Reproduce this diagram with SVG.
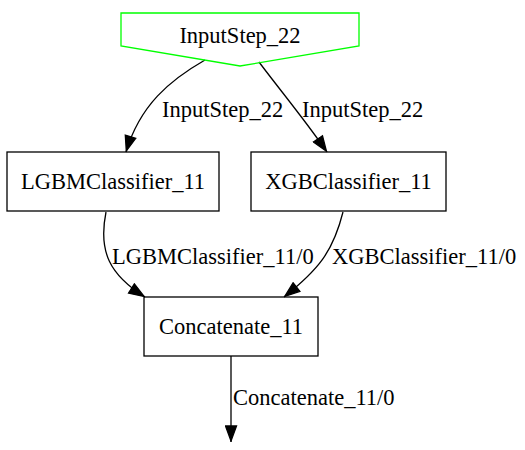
<svg xmlns="http://www.w3.org/2000/svg" width="525" height="450" viewBox="0 0 525 450" font-family="'Liberation Serif', 'Times New Roman', Times, 'DejaVu Serif', serif" font-size="22">
<style>
text{font-family:'Liberation Serif','Times New Roman',Times,'DejaVu Serif',serif;font-size:22.5px;fill:#000}
.n{text-anchor:middle}
.box{fill:none;stroke:#000;stroke-width:1.3}
.e{fill:none;stroke:#000;stroke-width:1.3}
</style>
<defs>
<marker id="ah" markerWidth="17" markerHeight="13" refX="17" refY="6.5" orient="auto" markerUnits="userSpaceOnUse" viewBox="0 0 17 13">
<path d="M1,1 L16,6.5 L1,12 Z" fill="#000" stroke="#000" stroke-width="1.3"/>
</marker>
</defs>
<rect width="525" height="450" fill="#fff"/>
<g id="connectors">
<path class="e" d="M205,60 C170,80 140,105 126,152" marker-end="url(#ah)"/>
<path class="e" d="M259,62 C280,90 305,120 327,152" marker-end="url(#ah)"/>
<path class="e" d="M106,212 C98,252 110,275 145,297" marker-end="url(#ah)"/>
<path class="e" d="M343,212 C333,252 318,270 284,297" marker-end="url(#ah)"/>
<path class="e" d="M231,356 L231,442" marker-end="url(#ah)"/>
<text x="162" y="117">InputStep_22</text>
<text x="302" y="117">InputStep_22</text>
<text x="112" y="264">LGBMClassifier_11/0</text>
<text x="332" y="264">XGBClassifier_11/0</text>
<text x="233" y="405">Concatenate_11/0</text>
</g>
<g id="InputStep_22">
<polygon points="121,13 359,13 359,46 240,66 121,46" fill="none" stroke="#00ff00" stroke-width="1.3"/>
<text class="n" x="240" y="43">InputStep_22</text>
</g>
<g id="LGBMClassifier_11">
<rect class="box" x="7" y="152" width="212" height="59"/>
<text class="n" x="113" y="189">LGBMClassifier_11</text>
</g>
<g id="XGBClassifier_11">
<rect class="box" x="251" y="152" width="195" height="59"/>
<text class="n" x="348.5" y="189">XGBClassifier_11</text>
</g>
<g id="Concatenate_11">
<rect class="box" x="144" y="297" width="174" height="59"/>
<text class="n" x="231" y="334">Concatenate_11</text>
</g>
</svg>
